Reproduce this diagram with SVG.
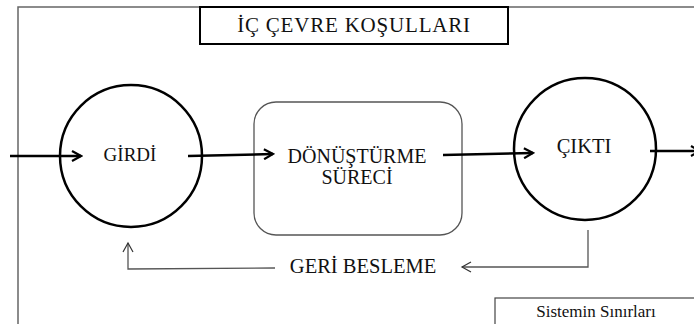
<svg xmlns="http://www.w3.org/2000/svg" width="694" height="324" viewBox="0 0 694 324">
<style>
text{font-family:"Liberation Serif","Times New Roman",serif;fill:#111;text-anchor:middle}
.thick{fill:none;stroke:#000;stroke-width:2.5}
.thin{fill:none;stroke:#555;stroke-width:1.3}
</style>
<defs>
<marker id="ah" viewBox="0 0 12 12" refX="10" refY="6" markerWidth="12" markerHeight="12" markerUnits="userSpaceOnUse" orient="auto">
<path d="M1,1 L10,6 L1,11" fill="none" stroke="#000" stroke-width="2.2"/>
</marker>
<marker id="ahs" viewBox="0 0 12 12" refX="10" refY="6" markerWidth="12" markerHeight="12" markerUnits="userSpaceOnUse" orient="auto">
<path d="M1,1 L10,6 L1,11" fill="none" stroke="#333" stroke-width="1.2"/>
</marker>
</defs>
<rect width="694" height="324" fill="#fff"/>
<g id="frame">
<path d="M18,324 L18,7 L694,7" fill="none" stroke="#666" stroke-width="1.5"/>
</g>
<g id="title">
<rect x="200" y="7" width="308" height="37" fill="#fff" stroke="#000" stroke-width="2"/>
<text x="354" y="32" font-size="21" letter-spacing="0.8">İÇ ÇEVRE KOŞULLARI</text>
</g>
<g id="girdi">
<circle cx="131" cy="156" r="71" class="thick"/>
<text x="130" y="161" font-size="19">GİRDİ</text>
</g>
<g id="surec">
<rect x="254" y="102" width="208" height="133" rx="22" fill="#fff" stroke="#555" stroke-width="1.3"/>
<text x="357" y="163" font-size="20">DÖNÜŞTÜRME</text>
<text x="357" y="184" font-size="20">SÜRECİ</text>
</g>
<g id="cikti">
<circle cx="585" cy="149" r="71" class="thick"/>
<text x="584" y="153" font-size="20.5">ÇIKTI</text>
</g>
<g id="sinir">
<rect x="495" y="298" width="210" height="40" fill="#fff" stroke="#444" stroke-width="1.2"/>
<text x="596" y="317" font-size="17">Sistemin Sınırları</text>
</g>
<g id="connectors">
<line x1="10" y1="156" x2="81" y2="156" class="thick" marker-end="url(#ah)"/>
<line x1="188" y1="156" x2="273" y2="154" class="thick" marker-end="url(#ah)"/>
<line x1="443" y1="155" x2="533" y2="153" class="thick" marker-end="url(#ah)"/>
<line x1="650" y1="151" x2="700" y2="151" class="thick" marker-end="url(#ah)"/>
<polyline points="588,230 588,267 462,267" class="thin" marker-end="url(#ahs)"/>
<polyline points="275,268 128,269 128,243" class="thin" marker-end="url(#ahs)"/>
<text x="363" y="273" font-size="20.5">GERİ BESLEME</text>
</g>
</svg>
